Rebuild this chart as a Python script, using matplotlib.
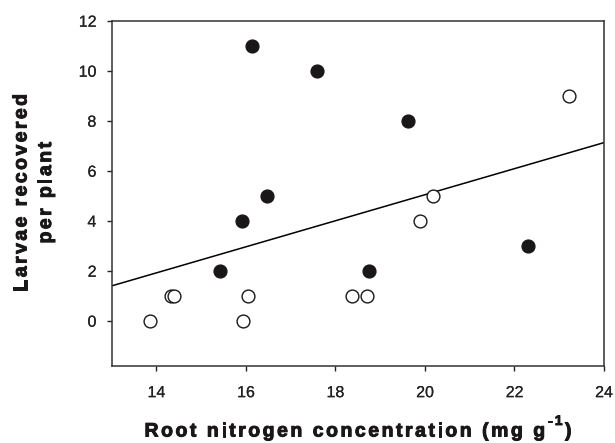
import matplotlib
matplotlib.use("Agg")
import matplotlib.pyplot as plt
import matplotlib.patheffects as pe
import numpy as np
from matplotlib import font_manager, ft2font
from matplotlib.font_manager import FontProperties

plt.rcParams['font.family'] = ['Liberation Sans', 'DejaVu Sans']

W, H = 615, 443
INK = '#1a1718'

# filled circles
filled_x = [16.14, 17.59, 19.61, 16.48, 15.91, 15.41, 18.75, 22.31]
filled_y = [11, 10, 8, 5, 4, 2, 2, 3]

# open circles
open_x = [13.85, 14.33, 14.39, 15.93, 16.05, 18.38, 18.71, 19.88, 20.17, 23.21]
open_y = [0, 1, 1, 0, 1, 1, 1, 4, 5, 9]

# regression line (slope, intercept)
slope = 0.521
intercept = -5.38

x_ticks = [14, 16, 18, 20, 22, 24]
y_ticks = [0, 2, 4, 6, 8, 10, 12]

FONT_PATH = font_manager.findfont(FontProperties(family='Liberation Sans',
                                                 weight='bold'))
HEAVY = [pe.Stroke(linewidth=0.7, foreground=INK), pe.Normal()]


def advances(s, size):
    ft = ft2font.FT2Font(FONT_PATH)
    ft.set_size(size, 100)
    return [ft.load_char(ord(c)).linearHoriAdvance / 65536 for c in s]


def spaced_width(parts, track):
    total = 0
    n = 0
    for s, size, _ in parts:
        total += sum(advances(s, size))
        n += len(s)
    return total + track * (n - 1)


def spaced_text(fig, parts, center, base, track, vertical=False):
    # parts: (text, size, raise_px); coords in pixels from bottom-left
    pos = center - spaced_width(parts, track) / 2
    for s, size, rise in parts:
        for ch, adv in zip(s, advances(s, size)):
            if vertical:
                x, y, rot = base - rise, pos, 90
            else:
                x, y, rot = pos, base + rise, 0
            fig.text(x / W, y / H, ch, family='Liberation Sans',
                     fontweight='bold', fontsize=size,
                     rotation=rot, rotation_mode='anchor', ha='left',
                     va='baseline', color=INK, path_effects=HEAVY)
            pos += adv + track


fig = plt.figure(figsize=(6.15, 4.43), dpi=100)
ax = fig.add_axes([111.7 / W, 1 - 365.7 / H, (604 - 111.7) / W, 345 / H])

xl = np.array([13, 24])
ax.plot(xl, slope * xl + intercept, color='black', lw=1.1, zorder=2)

ax.scatter(filled_x, filled_y, s=85, c=INK, edgecolors=INK,
           linewidths=1, zorder=3)
ax.scatter(open_x, open_y, s=85, facecolors='white', edgecolors=INK,
           linewidths=1, zorder=3)

ax.set_xlim(13, 24)
ax.set_ylim(-1.8, 12)
ax.set_xticks(x_ticks)
ax.set_yticks(y_ticks)
ax.tick_params(direction='out', length=3.5, width=1, labelsize=11.5,
               colors='#222222')
ax.tick_params(axis='y', pad=7.5)
ax.tick_params(axis='x', pad=10.5)
for lab in ax.get_xticklabels() + ax.get_yticklabels():
    lab.set_path_effects([pe.Stroke(linewidth=0.12, foreground='#222222'),
                          pe.Normal()])
for s in ax.spines.values():
    s.set_linewidth(1.1)
    s.set_color('#333333')

# x label with letter spacing and superscript
spaced_text(fig, [('Root nitrogen concentration (mg g', 14, 0),
                  ('-1', 10, 11.5), (')', 14, 0)],
            center=358, base=H - 436.5, track=2.5)

# y label, two lines
spaced_text(fig, [('Larvae recovered', 14, 0)], center=H - 192.7,
            base=26.5, track=2.4, vertical=True)
spaced_text(fig, [('per plant', 14, 0)], center=H - 192.7,
            base=51, track=2.4, vertical=True)

fig.savefig('out.png', dpi=100)
